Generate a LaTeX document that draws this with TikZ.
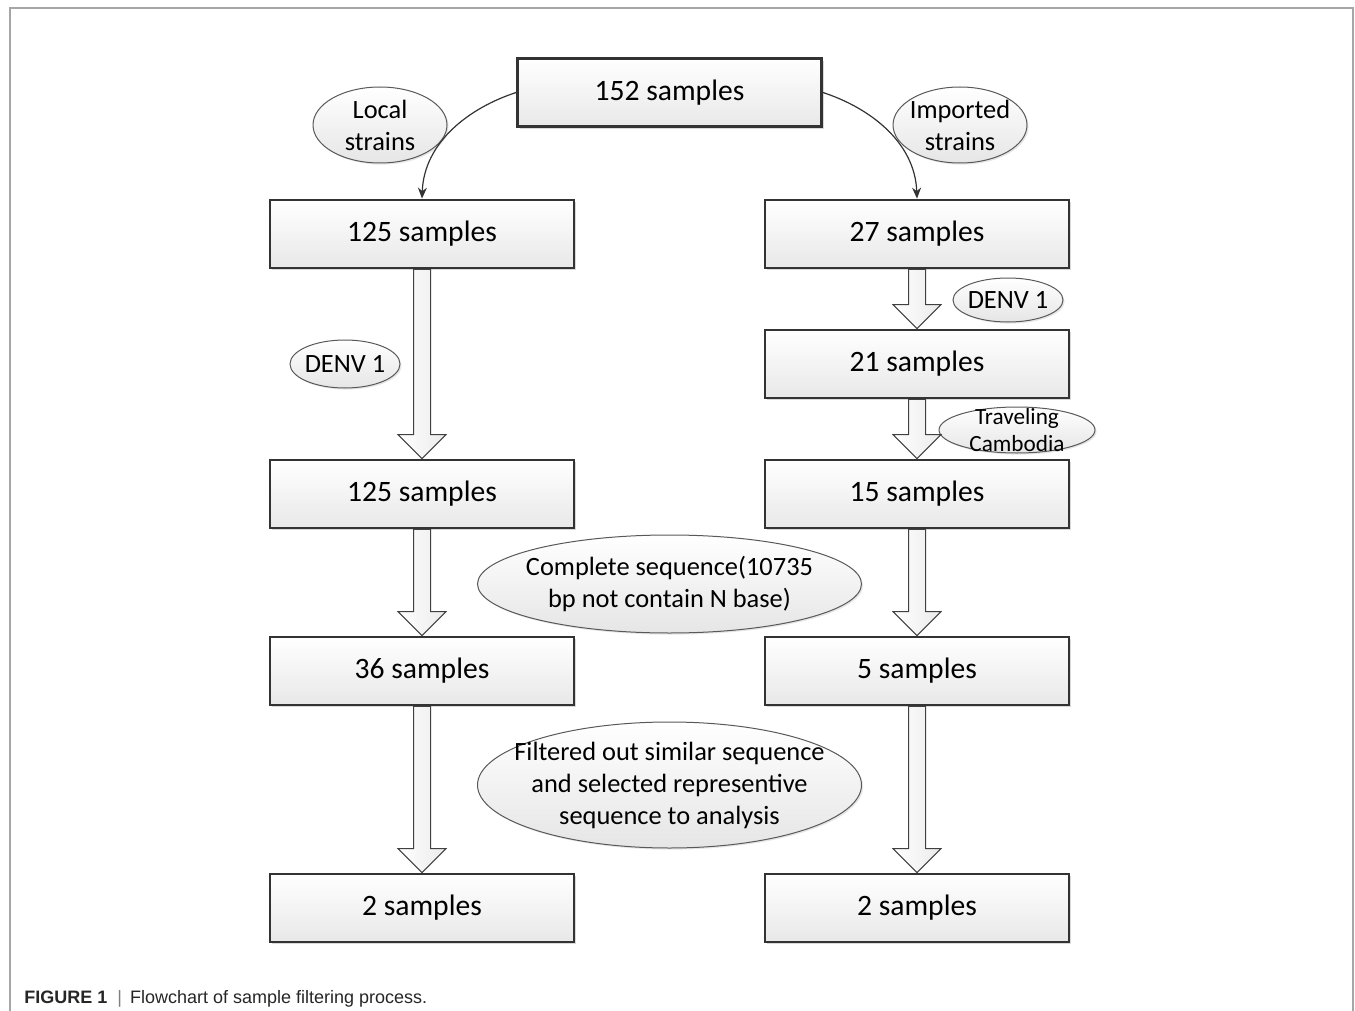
\documentclass[tikz,border=0pt]{standalone}
\usepackage{fontspec}
\setmainfont{Carlito}
\newfontfamily\capfont{Liberation Sans}
\usetikzlibrary{shapes.geometric,shadows,calc,arrows.meta}

\tikzset{
  box/.style={rectangle, draw=black!80, line width=1.4pt,
    minimum width=152pt, minimum height=34pt,
    top color=white, bottom color=black!9,
    drop shadow={shadow xshift=1.2pt, shadow yshift=-1.2pt, opacity=.3},
    font=\fontsize{14.8}{17}\selectfont},
  tag/.style={ellipse, draw=black!65, line width=.5pt, inner sep=0pt,
    top color=white, bottom color=black!10,
    drop shadow={shadow xshift=.8pt, shadow yshift=-.8pt, opacity=.2}},
  tagtext/.style={align=center, font=\fontsize{13.2}{16}\selectfont},
  flowarrow/.style={draw=black!75, line width=.5pt, left color=white, right color=black!8},
  bendarrow/.style={draw=black!80, line width=.6pt, -{Stealth[length=5.5pt,width=4.5pt]}}
}

\newcommand{\flowdown}[2]{%
  \path[flowarrow] ($(#1.south)+(-8.5,0)$) -- ($(#2.north)+(-8.5,-24)$)
    -- ($(#2.north)+(-24,-24)$) -- (#2.north) -- ($(#2.north)+(24,-24)$)
    -- ($(#2.north)+(8.5,-24)$) -- ($(#1.south)+(8.5,0)$) -- cycle;}

\begin{document}
\begin{tikzpicture}[x=0.5pt,y=-0.5pt]
    \useasboundingbox (0,0) rectangle (1355,1011);
    \draw[black!35, line width=1pt] (10,1011) -- (10,8) -- (1353,8) -- (1353,1011);

    \node[box] (all) at (669.5,92.5) {152 samples};

    \node[box] (local1) at (422,234) {125 samples};
    \node[box] (local2) at (422,494) {125 samples};
    \node[box] (local3) at (422,671) {36 samples};
    \node[box] (local4) at (422,908) {2 samples};

    \node[box] (imp1) at (917,234) {27 samples};
    \node[box] (imp2) at (917,364) {21 samples};
    \node[box] (imp3) at (917,494) {15 samples};
    \node[box] (imp4) at (917,671) {5 samples};
    \node[box] (imp5) at (917,908) {2 samples};

    \node[tag, minimum width=67pt, minimum height=38pt,
      label={[tagtext]center:Local\\strains}] (localtag) at (380,125) {};
    \node[tag, minimum width=67pt, minimum height=38pt,
      label={[tagtext]center:Imported\\strains}] (imptag) at (960,125) {};
    \node[tag, minimum width=55pt, minimum height=24pt,
      label={[tagtext]center:DENV 1}] (denvleft) at (345,364) {};
    \node[tag, minimum width=55pt, minimum height=22pt,
      label={[tagtext]center:DENV 1}] (denvright) at (1008,300) {};
    \node[tag, minimum width=78pt, minimum height=23pt,
      label={[tagtext, font=\fontsize{11.6}{13.5}\selectfont]center:Traveling\\Cambodia}] (travel) at (1017,430) {};
    \node[tag, minimum width=192pt, minimum height=49pt,
      label={[tagtext]center:Complete sequence(10735\\bp not contain N base)}] (complete) at (669.5,584) {};
    \node[tag, minimum width=192pt, minimum height=63pt,
      label={[tagtext]center:Filtered out similar sequence\\and selected representive\\sequence to analysis}] (filter) at (669.5,785) {};

    \draw[bendarrow] (all.west) .. controls +(-46,15) and +(2,-57) .. (local1.north);
    \draw[bendarrow] (all.east) .. controls +(46,15) and +(-2,-57) .. (imp1.north);

    \flowdown{local1}{local2}
    \flowdown{local2}{local3}
    \flowdown{local3}{local4}
    \flowdown{imp1}{imp2}
    \flowdown{imp2}{imp3}
    \flowdown{imp3}{imp4}
    \flowdown{imp4}{imp5}

    \node[anchor=base west, font=\capfont\fontsize{9}{11}\selectfont, text=black!85, inner sep=0pt] (caption) at (24,1003)
      {\textbf{FIGURE 1}\hspace{5pt}{\color{black!50}|}\hspace{4pt}Flowchart of sample filtering process.};
\end{tikzpicture}
\end{document}
